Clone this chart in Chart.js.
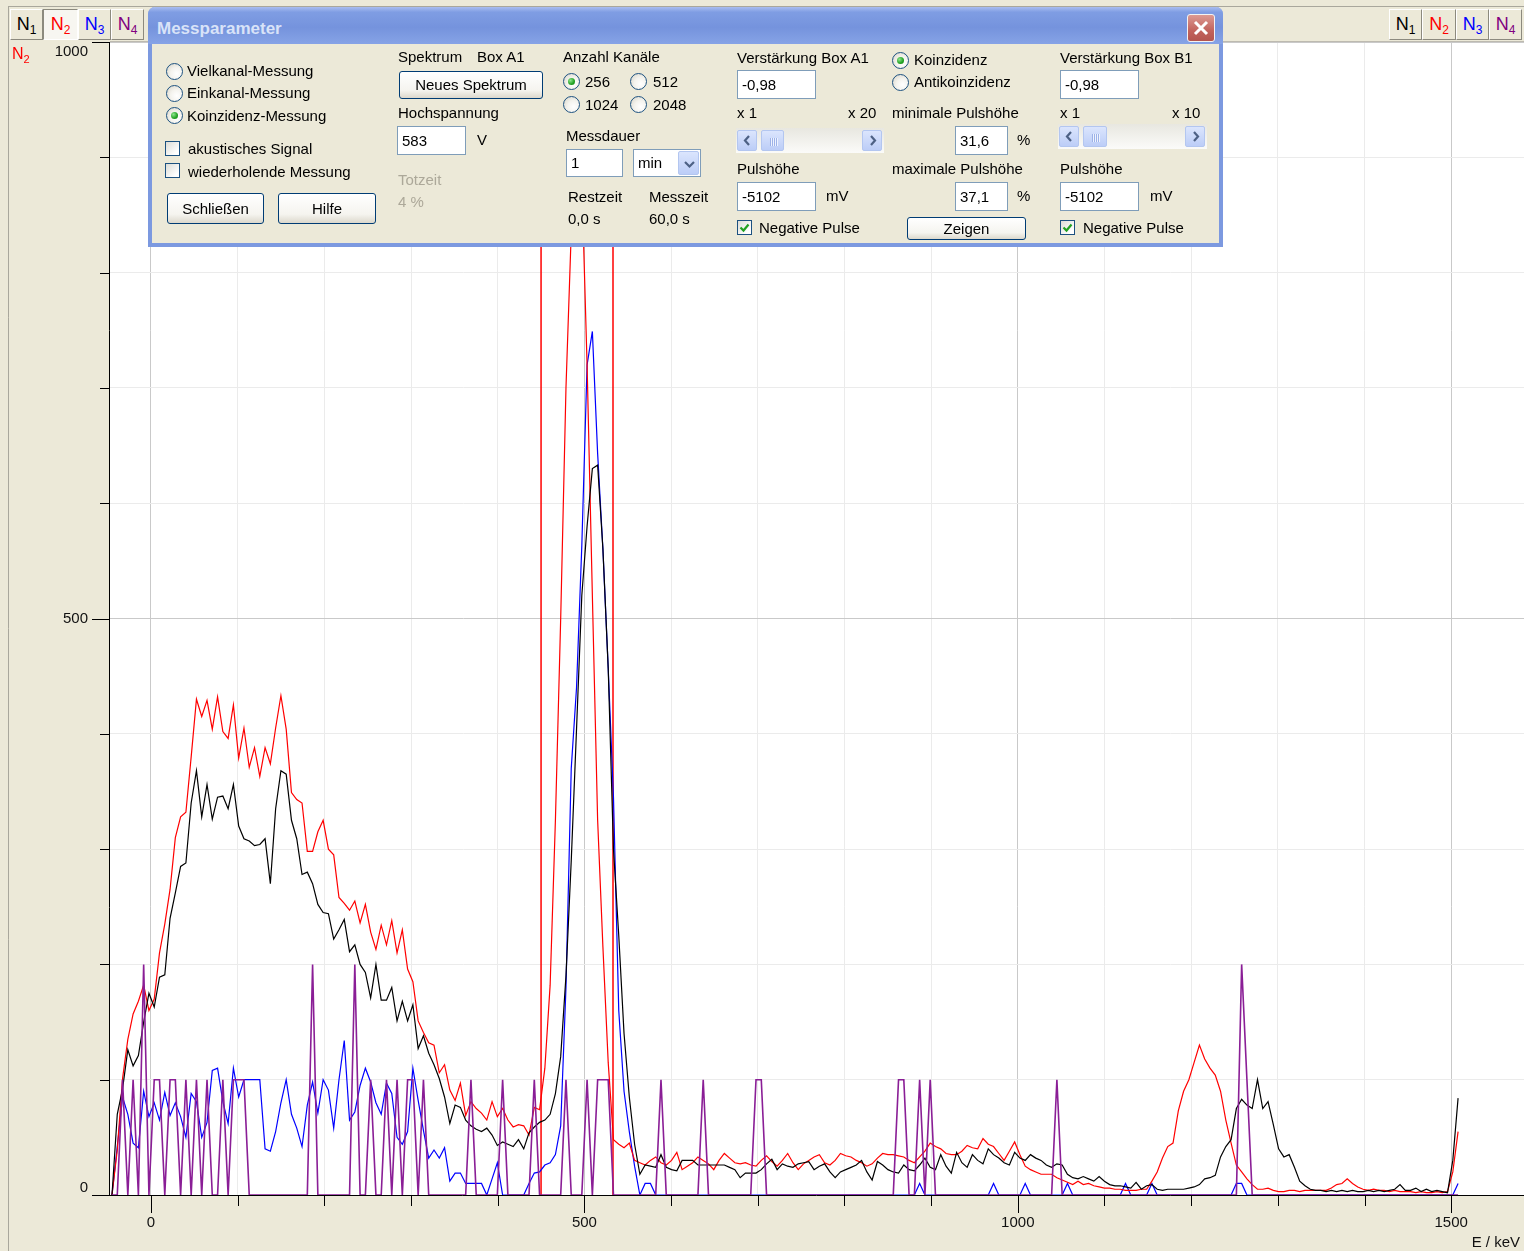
<!DOCTYPE html>
<html><head><meta charset="utf-8">
<script src="https://cdn.jsdelivr.net/npm/chart.js@4.4.1/dist/chart.umd.min.js"></script>
<style>
html,body{margin:0;padding:0;background:#ECE9D8;width:1524px;height:1251px;overflow:hidden;font-family:"Liberation Sans",Arial,sans-serif;}
#wrap{position:relative;width:1524px;height:1251px;}
#c{position:absolute;left:0;top:0;}
#ui{position:absolute;left:0;top:0;width:1524px;height:1251px;}
.t{position:absolute;font-size:15px;color:#000;white-space:nowrap;line-height:20px;height:20px;}
.radio{position:absolute;width:15px;height:15px;border:1px solid #1C5180;border-radius:50%;background:radial-gradient(circle at 65% 65%,#ffffff 0%,#f4f3ee 45%,#d5d2c5 100%);}
.dot{position:absolute;left:4px;top:4px;width:7px;height:7px;border-radius:50%;background:radial-gradient(circle at 35% 35%,#8de58d,#21a121 60%,#187f18);}
.chk{position:absolute;width:13px;height:13px;border:1px solid #1C5180;background:linear-gradient(135deg,#dcdcd6,#ffffff 80%);}
.inp{position:absolute;background:#fff;border:1px solid #7F9DB9;box-sizing:border-box;font-size:15px;line-height:26px;padding-left:4px;}
.btn{position:absolute;box-sizing:border-box;border:1px solid #003C74;border-radius:3px;background:linear-gradient(#ffffff,#f5f4ef 70%,#dcd8cc);font-size:15px;text-align:center;}
.tb{position:absolute;top:9px;height:31px;box-sizing:border-box;border:1px solid;border-color:#fff #8c8a7e #8c8a7e #fff;background:#ECE9D8;font-size:18px;text-align:center;line-height:29px;}
.tb sub{font-size:12px;vertical-align:-4px;}
.sb{position:absolute;background:linear-gradient(#e8e7e0,#fbfbf9);}
.sbb{position:absolute;box-sizing:border-box;border:1px solid #b3c6f0;border-radius:2px;background:linear-gradient(#dbe5fd,#bccdf7);}
</style></head>
<body><div id="wrap"><canvas id="c" width="1524" height="1251"></canvas><div id="ui"></div></div>
<script>
// ---- data (counts per channel, 256 channels) ----
const calOffsetKeV = -45;      // energy calibration of channel 0
const calGainKeV = 6.09;       // keV per channel
const n1Counts = [
0,70,92,126,112,121,150,175,163,189,
191,240,262,285,288,340,368,328,356,326,
345,346,335,356,320,309,307,303,304,309,
270,335,368,365,325,309,278,280,270,252,
245,244,222,230,239,211,217,200,193,171,
200,169,169,180,151,168,151,165,127,138,
123,113,101,85,62,78,76,65,60,57,
55,58,52,43,46,44,42,48,40,54,
59,63,65,70,88,120,190,290,404,520,
580,630,633,560,457,300,225,140,85,44,
18,26,25,24,35,24,22,21,30,30,
30,26,26,26,26,26,26,24,22,15,
19,19,19,22,27,31,22,27,25,24,
27,28,29,22,25,27,20,15,20,22,
24,26,30,20,13,29,26,22,20,19,
26,22,21,26,32,24,22,35,25,19,
37,28,24,35,30,27,40,35,32,28,
26,37,32,30,35,32,30,26,24,27,
26,18,15,14,16,14,12,16,12,9,
8,8,7,6,11,5,8,9,5,4,
5,5,5,5,6,7,9,14,15,17,
33,42,48,75,83,78,75,100,75,81,
61,40,33,35,24,12,8,5,4,4,
3,4,3,4,3,4,3,3,4,3,
4,3,4,5,9,4,4,6,3,5,
3,4,3,2,30,84];
const n2Counts = [
0,39,101,135,157,168,182,160,170,210,
235,265,310,328,332,380,430,415,429,404,
432,402,396,425,379,405,371,388,363,388,
374,405,433,404,349,343,340,298,298,315,
325,300,295,258,253,247,255,236,252,228,
213,234,217,238,210,230,196,185,151,141,
132,130,106,113,91,82,97,69,81,75,
71,65,81,68,75,65,59,61,60,52,
76,74,110,182,325,500,700,835,960,880,
720,520,325,215,115,48,44,41,45,30,
28,26,30,33,28,26,30,37,22,25,
28,33,30,27,22,30,36,32,28,27,
28,26,25,30,34,29,25,30,36,28,
22,27,30,33,35,28,26,30,36,34,
33,30,28,25,27,32,36,35,35,34,
33,30,28,33,38,45,42,40,36,35,
35,38,43,41,40,49,44,42,36,30,
38,46,35,25,22,20,18,18,18,15,
13,11,9,12,9,10,8,7,6,6,
5,5,4,4,4,5,5,12,20,32,
42,45,73,90,100,115,130,118,110,104,
90,65,45,26,20,14,9,5,5,6,
4,3,3,4,4,3,4,4,4,4,
4,6,9,10,14,10,7,5,4,5,
4,4,3,4,3,3,3,2,3,2,
2,3,2,3,20,55];
const n3Counts = [
0,42,85,70,45,41,90,68,80,65,
89,69,80,68,50,88,81,50,63,108,
110,81,62,110,85,100,100,100,100,40,
38,55,80,100,70,58,42,78,98,71,
100,91,58,100,134,65,72,95,110,98,
80,70,97,88,50,44,55,110,82,56,
32,39,32,41,12,19,19,10,10,10,
10,0,14,28,0,0,0,0,0,10,
19,20,26,28,35,60,180,370,440,563,
720,749,643,560,457,345,160,90,55,25,
0,10,10,0,0,0,0,0,0,0,
0,0,0,0,0,0,0,0,0,0,
0,0,0,0,0,0,0,0,0,0,
0,0,0,0,0,0,0,0,0,0,
0,0,0,0,0,0,0,0,0,0,
0,0,0,10,0,0,0,0,0,0,
0,0,0,0,0,0,0,10,0,0,
0,0,0,10,0,0,0,0,0,0,
0,10,0,0,0,0,0,0,0,0,
0,0,10,0,0,0,0,10,0,0,
0,0,0,0,0,0,0,0,0,0,
0,0,0,10,10,0,0,0,0,0,
0,0,0,0,0,0,0,0,0,0,
0,0,0,0,0,0,0,0,0,0,
0,0,0,0,0,0,0,0,0,0,
0,0,0,0,0,10];
const n4Counts = [
0,0,100,0,100,0,200,0,100,100,
0,100,100,0,100,0,100,0,100,0,
0,100,0,100,100,100,0,0,0,0,
0,0,0,0,0,0,0,0,200,0,
0,0,0,0,0,0,200,0,0,100,
0,0,100,0,100,0,100,100,0,100,
0,0,0,0,0,0,0,0,100,0,
0,0,0,0,100,0,0,0,0,0,
100,0,0,0,0,0,100,0,0,0,
100,0,100,100,100,0,0,0,0,0,
0,0,0,0,100,0,0,0,0,0,
0,0,100,0,0,0,0,0,0,0,
0,0,100,100,0,0,0,0,0,0,
0,0,0,0,0,0,0,0,0,0,
0,0,0,0,0,0,0,0,0,100,
100,0,0,100,0,100,0,0,0,0,
0,0,0,0,0,0,0,0,0,0,
0,0,0,0,0,0,0,0,0,100,
0,0,0,0,0,0,0,0,0,0,
0,0,0,0,0,0,0,0,0,0,
0,0,0,0,0,0,0,0,0,0,
0,0,0,0,200,100,0,0,0,0,
0,0,0,0,0,0,0,0,0,0,
0,0,0,0,0,0,0,0,0,0,
0,0,0,0,0,0,0,0,0,0,
0,0,0,0,0,0];
const windowMarkersKeV = [450, 533];   // min / max pulse height window
const xTickValues = [0,100,200,300,400,500,600,700,800,900,1000,1100,1200,1300,1400,1500];
const xLabelValues = [0,500,1000,1500];
const yTickValues = [0,100,200,300,400,500,600,700,800,900,1000];
const yLabelValues = [0,500,1000];
const xMinKeV = -47.3, xMaxKeV = 1584;

// ---- chart ----
const energies = n1Counts.map((_, ch) => calOffsetKeV + calGainKeV * ch);
const pts = arr => arr.map((v, i) => ({x: energies[i], y: v}));
const FONT = '15px "Liberation Sans", Arial, sans-serif';

const bgPlugin = {
  id: 'bg',
  beforeDraw(chart) {
    const c = chart.ctx, a = chart.chartArea;
    c.save();
    c.fillStyle = '#ECE9D8'; c.fillRect(0, 0, chart.width, chart.height);
    c.fillStyle = '#ffffff'; c.fillRect(a.left, a.top, a.right - a.left, a.bottom - a.top);
    c.strokeStyle = '#a9a79c'; c.lineWidth = 1;
    c.beginPath(); c.moveTo(8.5, 6); c.lineTo(8.5, chart.height); c.stroke();
    c.beginPath(); c.moveTo(8, 6.5); c.lineTo(chart.width, 6.5); c.stroke();
    c.strokeStyle = '#bdbab0';
    c.beginPath(); c.moveTo(a.left, a.top - 0.5); c.lineTo(a.right, a.top - 0.5); c.stroke();
    c.restore();
  }
};
const axisPlugin = {
  id: 'axes',
  afterDatasetsDraw(chart) {
    const c = chart.ctx, a = chart.chartArea, xs = chart.scales.x, ys = chart.scales.y;
    c.save();
    c.strokeStyle = '#000'; c.lineWidth = 1;
    c.beginPath();
    c.moveTo(a.left - 0.5, a.top); c.lineTo(a.left - 0.5, a.bottom + 1);
    c.moveTo(a.left - 1, a.bottom + 0.5); c.lineTo(a.right, a.bottom + 0.5);
    yTickValues.forEach(v => {
      const y = Math.round(ys.getPixelForValue(v)) + 0.5;
      const len = yLabelValues.includes(v) ? 18 : 10;
      c.moveTo(a.left - len, y); c.lineTo(a.left, y);
    });
    xTickValues.forEach(v => {
      const x = Math.round(xs.getPixelForValue(v)) + 0.5;
      const len = xLabelValues.includes(v) ? 18 : 11;
      c.moveTo(x, a.bottom); c.lineTo(x, a.bottom + len);
    });
    c.stroke();
    c.fillStyle = '#111'; c.font = FONT;
    c.textAlign = 'right'; c.textBaseline = 'middle';
    yLabelValues.forEach(v => {
      let y = ys.getPixelForValue(v);
      y = Math.min(Math.max(y, a.top + 10), a.bottom - 7);
      c.fillText(String(v), a.left - 22, y);
    });
    c.textAlign = 'center';
    xLabelValues.forEach(v => c.fillText(String(v), xs.getPixelForValue(v), a.bottom + 28));
    c.textAlign = 'right';
    c.fillText('E / keV', chart.width - 4, a.bottom + 48);
    c.restore();
  }
};

const gridColor = ctx => (ctx.tick && ctx.tick.value % 500 === 0) ? '#c9c9c9' : '#ebebeb';

new Chart(document.getElementById('c'), {
  type: 'line',
  data: {
    datasets: [
      {label: 'N4', data: pts(n4Counts), borderColor: '#8a1e96', borderWidth: 1.6},
      {label: 'N1', data: pts(n1Counts), borderColor: '#000000', borderWidth: 1.2},
      {label: 'N2', data: pts(n2Counts), borderColor: '#ff0000', borderWidth: 1.2},
      {label: 'N3', data: pts(n3Counts), borderColor: '#0000ff', borderWidth: 1.2},
      {label: 'lo', data: [{x: windowMarkersKeV[0], y: 0}, {x: windowMarkersKeV[0], y: 1000}], borderColor: '#ff0000', borderWidth: 1.5},
      {label: 'hi', data: [{x: windowMarkersKeV[1], y: 0}, {x: windowMarkersKeV[1], y: 1000}], borderColor: '#ff0000', borderWidth: 1.5}
    ]
  },
  options: {
    responsive: false, animation: false, devicePixelRatio: 1,
    layout: {padding: {top: 42, left: 0, right: 0, bottom: 0}},
    plugins: {legend: {display: false}, tooltip: {enabled: false}},
    elements: {point: {radius: 0}, line: {tension: 0, fill: false}},
    scales: {
      x: {type: 'linear', min: xMinKeV, max: xMaxKeV,
          afterFit(s) { s.height = 56; },
          afterBuildTicks(s) { s.ticks = xTickValues.map(v => ({value: v})); },
          ticks: {display: false}, border: {display: false},
          grid: {color: gridColor, drawTicks: false, lineWidth: 1}},
      y: {type: 'linear', min: 0, max: 1000,
          afterFit(s) { s.width = 110; },
          afterBuildTicks(s) { s.ticks = yTickValues.map(v => ({value: v})); },
          ticks: {display: false}, border: {display: false},
          grid: {color: gridColor, drawTicks: false, lineWidth: 1}}
    }
  },
  plugins: [bgPlugin, axisPlugin]
});

// ---- window UI (toolbar + dialog) ----
const ui = document.getElementById('ui');
const add = h => ui.insertAdjacentHTML('beforeend', h);
const text = (x, yc, s, st = '') => add(`<div class="t" style="left:${x}px;top:${yc - 10}px;${st}">${s}</div>`);
const radio = (x, y, on) => add(`<div class="radio" style="left:${x}px;top:${y}px">${on ? '<div class="dot"></div>' : ''}</div>`);
const chk = (x, y, on) => add(`<div class="chk" style="left:${x}px;top:${y}px">${on ? '<svg width="13" height="13" style="position:absolute;left:0;top:0"><polyline points="2.5,6.5 5.5,9.5 10.5,3.5" fill="none" stroke="#21a121" stroke-width="2.2"/></svg>' : ''}</div>`);
const inp = (x, y, w, h, v) => add(`<div class="inp" style="left:${x}px;top:${y}px;width:${w}px;height:${h}px;line-height:${h - 2}px">${v}</div>`);
const btn = (x, y, w, h, s) => add(`<div class="btn" style="left:${x}px;top:${y}px;width:${w}px;height:${h}px;line-height:${h - 2}px">${s}</div>`);
const chev = (dir) => `<svg width="19" height="19" style="position:absolute;left:0;top:0"><polyline points="${dir < 0 ? '11,5 7,9.5 11,14' : '8,5 12,9.5 8,14'}" fill="none" stroke="#4d6185" stroke-width="2.2"/></svg>`;
const scroll = (x, y, w, h, tx, tw) => {
  add(`<div class="sb" style="left:${x}px;top:${y}px;width:${w}px;height:${h}px"></div>`);
  add(`<div class="sbb" style="left:${x + 1}px;top:${y + 2}px;width:20px;height:${h - 4}px">${chev(-1)}</div>`);
  add(`<div class="sbb" style="left:${tx}px;top:${y + 2}px;width:${tw}px;height:${h - 4}px"><div style="position:absolute;left:${tw / 2 - 4}px;top:${(h - 4) / 2 - 4}px;width:8px;height:8px;background:repeating-linear-gradient(90deg,#9db2e8 0 1px,#eef3fe 1px 2px)"></div></div>`);
  add(`<div class="sbb" style="left:${x + w - 22}px;top:${y + 2}px;width:20px;height:${h - 4}px">${chev(1)}</div>`);
};
const nlab = (n, col) => `<span style="color:${col}">N<sub>${n}</sub></span>`;
const cols = ['#000000', '#ff0000', '#0000ff', '#800080'];
// toolbar buttons
[[10, 33], [43, 35], [78, 33], [111, 33]].forEach(([x, w], i) =>
  add(`<div class="tb" style="left:${x}px;width:${w}px;${i === 1 ? 'background:#f7f6f1;border-color:#8c8a7e #fff #fff #8c8a7e;' : ''}">${nlab(i + 1, cols[i])}</div>`));
[[1389, 33], [1422, 34], [1456, 33], [1489, 33]].forEach(([x, w], i) =>
  add(`<div class="tb" style="left:${x}px;width:${w}px">${nlab(i + 1, cols[i])}</div>`));
add(`<div class="t" style="left:12px;top:44px;font-size:16px;color:#ff0000">N<sub style="font-size:11px;vertical-align:-4px">2</sub></div>`);

// dialog frame
add(`<div style="position:absolute;left:148px;top:7px;width:1075px;height:240px;box-sizing:border-box;border:4px solid #7c99e0;border-top:none;border-radius:7px 7px 0 0;background:#ECE9D8"></div>`);
add(`<div style="position:absolute;left:148px;top:7px;width:1075px;height:37px;border-radius:7px 7px 0 0;background:linear-gradient(#a9bdf0 0%,#7f9de3 14%,#7593dd 55%,#86a3e6 100%)"></div>`);
add(`<div class="t" style="left:157px;top:19px;font-size:17px;font-weight:bold;color:#d9e3f8">Messparameter</div>`);
add(`<div style="position:absolute;left:1187px;top:14px;width:28px;height:28px;box-sizing:border-box;border:1px solid #f3f3f3;border-radius:3px;background:linear-gradient(#dc9a93,#c2635c 60%,#b4554f)"><svg width="26" height="26" style="position:absolute;left:0;top:0"><path d="M7,7 L19,19 M19,7 L7,19" stroke="#fff" stroke-width="3"/></svg></div>`);

// column 1
radio(166, 63, false); text(187, 71, 'Vielkanal-Messung');
radio(166, 85, false); text(187, 93, 'Einkanal-Messung');
radio(166, 107, true); text(187, 116, 'Koinzidenz-Messung');
chk(165, 141, false); text(188, 149, 'akustisches Signal');
chk(165, 163, false); text(188, 172, 'wiederholende Messung');
btn(167, 193, 97, 31, 'Schließen');
btn(278, 193, 98, 31, 'Hilfe');
// column 2
text(398, 57, 'Spektrum'); text(477, 57, 'Box A1');
btn(399, 71, 144, 28, 'Neues Spektrum');
text(398, 113, 'Hochspannung');
inp(397, 126, 69, 29, '583'); text(477, 140, 'V');
text(398, 180, 'Totzeit', 'color:#aca899'); text(398, 202, '4 %', 'color:#aca899');
// column 3
text(563, 57, 'Anzahl Kanäle');
radio(563, 73, true); text(585, 82, '256');
radio(630, 73, false); text(653, 82, '512');
radio(563, 96, false); text(585, 105, '1024');
radio(630, 96, false); text(653, 105, '2048');
text(566, 136, 'Messdauer');
inp(566, 149, 57, 28, '1');
add(`<div class="inp" style="left:633px;top:149px;width:68px;height:28px;line-height:26px">min</div>`);
add(`<div class="sbb" style="left:678px;top:151px;width:21px;height:24px"><svg width="21" height="24" style="position:absolute;left:0;top:0"><polyline points="6,10 10.5,14.5 15,10" fill="none" stroke="#4d6185" stroke-width="2.2"/></svg></div>`);
text(568, 197, 'Restzeit'); text(649, 197, 'Messzeit');
text(568, 219, '0,0 s'); text(649, 219, '60,0 s');
// column 4
text(737, 58, 'Verstärkung Box A1');
inp(737, 70, 79, 29, '-0,98');
text(737, 113, 'x 1'); text(848, 113, 'x 20');
scroll(736, 128, 148, 25, 761, 23);
text(737, 169, 'Pulshöhe');
inp(737, 182, 79, 29, '-5102'); text(826, 196, 'mV');
chk(737, 220, true); text(759, 228, 'Negative Pulse');
// column 5
radio(892, 52, true); text(914, 60, 'Koinzidenz');
radio(892, 74, false); text(914, 82, 'Antikoinzidenz');
text(892, 113, 'minimale Pulshöhe');
inp(955, 126, 53, 29, '31,6'); text(1017, 140, '%');
text(892, 169, 'maximale Pulshöhe');
inp(955, 182, 53, 29, '37,1'); text(1017, 196, '%');
btn(907, 217, 119, 23, 'Zeigen');
// column 6
text(1060, 58, 'Verstärkung Box B1');
inp(1060, 70, 79, 29, '-0,98');
text(1060, 113, 'x 1'); text(1172, 113, 'x 10');
scroll(1058, 124, 149, 25, 1083, 24);
text(1060, 169, 'Pulshöhe');
inp(1060, 182, 79, 29, '-5102'); text(1150, 196, 'mV');
chk(1060, 220, true); text(1083, 228, 'Negative Pulse');
</script>
</body></html>
